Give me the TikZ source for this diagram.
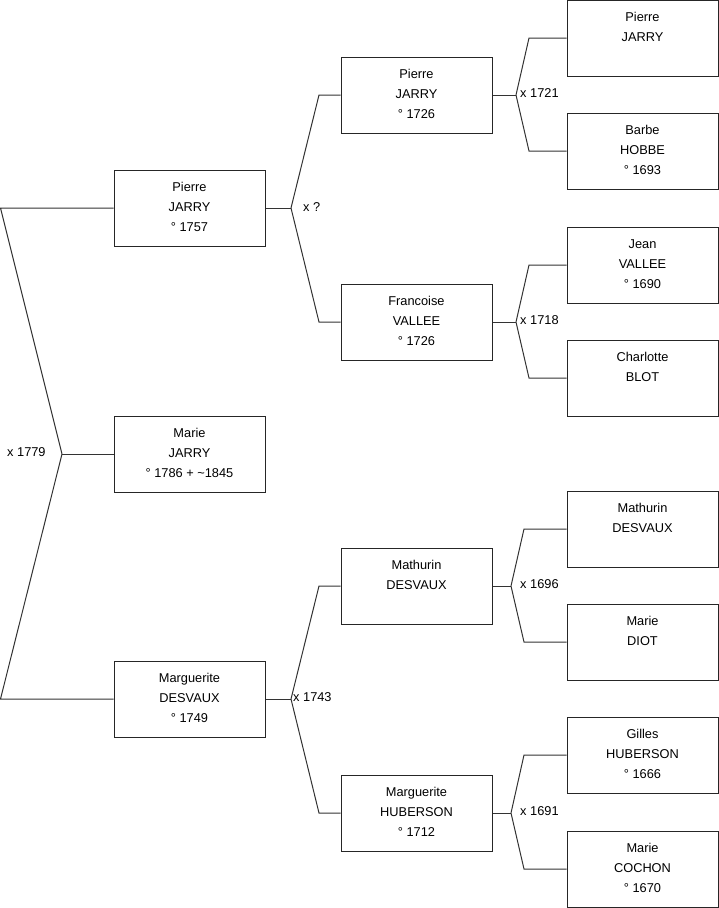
\documentclass[tikz,border=0pt]{standalone}
\usepackage{fontspec}
\setmainfont{Liberation Sans}
\usetikzlibrary{positioning}
\tikzset{
  person/.style={draw=black!85, line width=1pt, minimum width=151pt, minimum height=76pt, inner sep=4pt},
  link/.style={draw=black!80, line width=1pt},
  wed/.style={anchor=west, inner sep=0pt},
}
\newcommand{\who}[1]{\parbox[t][68pt][t]{143pt}{\centering\rule{0pt}{17pt}#1\par}}

\begin{document}
\begin{tikzpicture}[x=1pt, y=-1pt, every node/.style={font=\fontsize{12.8}{20}\selectfont}]
    \useasboundingbox (0,0) rectangle (719,908);
    % generation 1
    \node[person] (marie) at (189.5,454) {\who{Marie\\JARRY\\° 1786 + \textasciitilde 1845}};
    \node[person] (pierreF) at (189.5,208) {\who{Pierre\\JARRY\\° 1757}};
    \node[person] (margM) at (189.5,699) {\who{Marguerite\\DESVAUX\\° 1749}};
    % generation 2
    \node[person] (pierreFF) at (416.5,95) {\who{Pierre\\JARRY\\° 1726}};
    \node[person] (francFM) at (416.5,322) {\who{Francoise\\VALLEE\\° 1726}};
    \node[person] (mathMF) at (416.5,586) {\who{Mathurin\\DESVAUX}};
    \node[person] (margMM) at (416.5,813) {\who{Marguerite\\HUBERSON\\° 1712}};
    % generation 3
    \node[person] (pierreFFF) at (642.5,38) {\who{Pierre\\JARRY}};
    \node[person] (barbeFFM) at (642.5,151) {\who{Barbe\\HOBBE\\° 1693}};
    \node[person] (jeanFMF) at (642.5,265) {\who{Jean\\VALLEE\\° 1690}};
    \node[person] (charlFMM) at (642.5,378) {\who{Charlotte\\BLOT}};
    \node[person] (mathMFF) at (642.5,529) {\who{Mathurin\\DESVAUX}};
    \node[person] (marieMFM) at (642.5,642) {\who{Marie\\DIOT}};
    \node[person] (gillesMMF) at (642.5,755) {\who{Gilles\\HUBERSON\\° 1666}};
    \node[person] (marieMMM) at (642.5,869) {\who{Marie\\COCHON\\° 1670}};
    % bracket corners
    \coordinate (v0) at (62,454);
    \coordinate (e0a) at (0.5,208);   \coordinate (e0b) at (0.5,699);
    \coordinate (v1) at (291,208);
    \coordinate (e1a) at (319,95);    \coordinate (e1b) at (319,322);
    \coordinate (v2) at (291,699);
    \coordinate (e2a) at (319,586);   \coordinate (e2b) at (319,813);
    \coordinate (va) at (516,95);
    \coordinate (eaa) at (529,38);    \coordinate (eab) at (529,151);
    \coordinate (vb) at (516,322);
    \coordinate (eba) at (529,265);   \coordinate (ebb) at (529,378);
    \coordinate (vc) at (511,586);
    \coordinate (eca) at (524,529);   \coordinate (ecb) at (524,642);
    \coordinate (vd) at (511,813);
    \coordinate (eda) at (524,755);   \coordinate (edb) at (524,869);
    % marriages
    \node[wed] (w0) at (7,452) {x 1779};
    \node[wed] (w1) at (303,207) {x ?};
    \node[wed] (w2) at (293,697) {x 1743};
    \node[wed] (wa) at (520,93) {x 1721};
    \node[wed] (wb) at (520,320) {x 1718};
    \node[wed] (wc) at (520,584) {x 1696};
    \node[wed] (wd) at (520,811) {x 1691};
    % links
    \draw[link] (marie.west) -- (v0);
    \draw[link] (v0) -- (e0a) -- (pierreF.west);
    \draw[link] (v0) -- (e0b) -- (margM.west);
    \draw[link] (pierreF.east) -- (v1);
    \draw[link] (v1) -- (e1a) -- (pierreFF.west);
    \draw[link] (v1) -- (e1b) -- (francFM.west);
    \draw[link] (margM.east) -- (v2);
    \draw[link] (v2) -- (e2a) -- (mathMF.west);
    \draw[link] (v2) -- (e2b) -- (margMM.west);
    \draw[link] (pierreFF.east) -- (va);
    \draw[link] (va) -- (eaa) -- (pierreFFF.west);
    \draw[link] (va) -- (eab) -- (barbeFFM.west);
    \draw[link] (francFM.east) -- (vb);
    \draw[link] (vb) -- (eba) -- (jeanFMF.west);
    \draw[link] (vb) -- (ebb) -- (charlFMM.west);
    \draw[link] (mathMF.east) -- (vc);
    \draw[link] (vc) -- (eca) -- (mathMFF.west);
    \draw[link] (vc) -- (ecb) -- (marieMFM.west);
    \draw[link] (margMM.east) -- (vd);
    \draw[link] (vd) -- (eda) -- (gillesMMF.west);
    \draw[link] (vd) -- (edb) -- (marieMMM.west);
\end{tikzpicture}
\end{document}
